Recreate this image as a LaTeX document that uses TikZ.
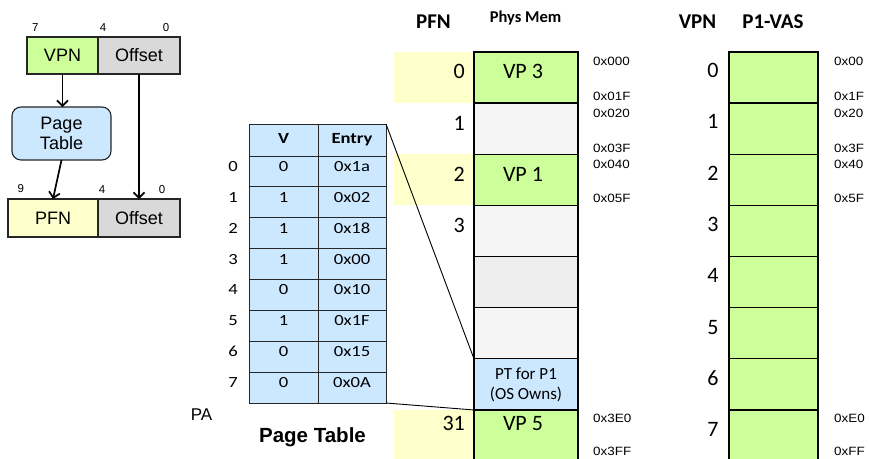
\documentclass[tikz,border=0pt]{standalone}
\usepackage{fontspec}
\setmainfont{Liberation Sans}
\newfontfamily\calib{Carlito}
\newfontfamily\calibw{Carlito}[FakeStretch=1.2]
\newfontfamily\arialw{Liberation Sans}[FakeStretch=1.12]
\usetikzlibrary{arrows.meta}
\definecolor{vgreen}{HTML}{CCFF99}
\definecolor{vyellow}{HTML}{FFFFCC}
\definecolor{vblue}{HTML}{CCE8FF}
\definecolor{vgray}{HTML}{D9D9D9}
\definecolor{vempty}{HTML}{F5F5F5}
\definecolor{vemptyb}{HTML}{EDEDED}
\tikzset{
  box/.style={draw=black!85, line width=1.1pt, inner sep=0pt, outer sep=0pt},
  lt/.style={font=\fontsize{18}{20}\selectfont},
  bit/.style={font=\fontsize{11.5}{13}\selectfont, anchor=base, inner sep=0pt},
  arr/.style={-{Straight Barb[length=5.5pt,width=11pt]}, line width=1.7pt},
  tcell/.style={draw=black!85, line width=0.9pt, fill=vblue, inner sep=0pt, outer sep=0pt, minimum width=#1, minimum height=30.875},
  ttxt/.style={font=\calibw\fontsize{15.5}{18}\selectfont, anchor=base, inner sep=0pt},
  thdr/.style={font=\calibw\bfseries\fontsize{15.5}{18}\selectfont, anchor=base, inner sep=0pt},
  mcell/.style={draw=black, line width=1.3pt, inner sep=0pt, outer sep=0pt, minimum width=#1, minimum height=51.14},
  mtxt/.style={font=\calib\fontsize{22}{26}\selectfont, anchor=base, inner sep=0pt},
  mnum/.style={font=\calib\fontsize{22}{26}\selectfont, anchor=base east, inner sep=0pt},
  addr/.style={font=\arialw\fontsize{12}{14}\selectfont, anchor=base west, inner sep=0pt},
  hdr/.style={font=\calib\bfseries\fontsize{21}{24}\selectfont, anchor=base, inner sep=0pt},
  hl/.style={fill=vyellow, inner sep=0pt, outer sep=0pt, minimum width=80, minimum height=#1},
  conn/.style={line width=0.9pt},
}
\begin{document}
\begin{tikzpicture}[x=1pt,y=-1pt]
\useasboundingbox (0,0) rectangle (869,458);

% ---- left: address translation ----
\node[bit] (b7) at (35.3,31) {7};
\node[bit] (b4) at (103,31) {4};
\node[bit] (b0) at (166,31) {0};
\node[box, lt, fill=vgreen, minimum width=71, minimum height=37] (vpn) at (62.5,55.5) {VPN};
\node[box, lt, fill=vgray, minimum width=82, minimum height=37] (off1) at (139,55.5) {Offset};
\node[box, lt, fill=vblue, rounded corners=9pt, minimum width=99, minimum height=53, align=center] (pt) at (61.5,133.5) {Page\\Table};
\node[bit] (c9) at (20.7,192) {9};
\node[bit] (c4) at (102,193) {4};
\node[bit] (c0) at (162,193) {0};
\node[box, lt, fill=vyellow, minimum width=90, minimum height=38] (pfn) at (53,218) {PFN};
\node[box, lt, fill=vgray, minimum width=82, minimum height=38] (off2) at (139,218) {Offset};
\draw[arr] (vpn.south) -- (vpn.south |- pt.north);
\draw[arr] (pt.south) -- (pfn.north);
\draw[arr] (off1.south) -- (off2.north);

% ---- page table ----
\node[tcell=69, minimum height=32] (hv) at (283.5,140) {};
\node[tcell=68, minimum height=32] (he) at (352,140) {};
\node[thdr] (thv) at ([yshift=-3pt]hv.center) {V};
\node[thdr] (the) at ([yshift=-3pt]he.center) {Entry};
\foreach \i/\v/\e in {0/0/0x1a,1/1/0x02,2/1/0x18,3/1/0x00,4/0/0x10,5/1/0x1F,6/0/0x15,7/0/0x0A}{
  \node[tcell=69] (v\i) at (283.5,{171.4375+30.875*\i}) {};
  \node[tcell=68] (e\i) at (352,{171.4375+30.875*\i}) {};
  \node[ttxt] (tv\i) at (v\i.center) {\v};
  \node[ttxt] (te\i) at (e\i.center) {\e};
  \node[ttxt] (ti\i) at (233,{171.4375+30.875*\i}) {\i};
}
\node[font=\fontsize{17}{20}\selectfont, anchor=base, inner sep=0pt] (pa) at (201.5,420) {PA};
\node[font=\bfseries\fontsize{20.5}{24}\selectfont, anchor=base, inner sep=0pt] (ptl) at (312.5,442) {Page Table};

% ---- physical memory ----
\node[hdr] (hpfn) at (433.5,28) {PFN};
\node[font=\calib\bfseries\fontsize{16.5}{19}\selectfont, anchor=base, inner sep=0pt] (hpm) at (525.5,22) {Phys Mem};
\node[hl=51.14] (y0) at (434,77.57) {};
\node[hl=51.14] (y2) at (434,179.85) {};
\node[hl=52] (y31) at (434,436) {};
\node[mcell=104, fill=vgreen] (m0) at (526,77.57) {};
\node[mcell=104, fill=vempty] (m1) at (526,128.71) {};
\node[mcell=104, fill=vgreen] (m2) at (526,179.85) {};
\node[mcell=104, fill=vempty] (m3) at (526,230.99) {};
\node[mcell=104, fill=vemptyb] (m4) at (526,282.13) {};
\node[mcell=104, fill=vempty] (m5) at (526,333.27) {};
\node[mcell=104, fill=vblue] (mpt) at (526,384.41) {};
\node[mcell=104, fill=vgreen, minimum height=52] (m31) at (526,436) {};
\node[mtxt] (t0) at (523,78.5) {VP 3};
\node[mtxt] (t2) at (523,181) {VP 1};
\node[mtxt] (t31) at (523,430) {VP 5};
\node[font=\calib\fontsize{17}{20}\selectfont, align=center, inner sep=0pt] (tpt) at (mpt.center) {PT for P1\\(OS Owns)};
\node[mnum] (n0) at (465,78.5) {0};
\node[mnum] (n1) at (465,130) {1};
\node[mnum] (n2) at (465,181) {2};
\node[mnum] (n3) at (465,232) {3};
\node[mnum] (n31) at (465,430) {31};
\node[addr] (a1) at (593,65) {0x000};
\node[addr] (a2) at (593,100) {0x01F};
\node[addr] (a3) at (593,117) {0x020};
\node[addr] (a4) at (593,152) {0x03F};
\node[addr] (a5) at (593,168) {0x040};
\node[addr] (a6) at (593,202) {0x05F};
\node[addr] (a7) at (593,422) {0x3E0};
\node[addr] (a8) at (593,455) {0x3FF};
\draw[conn] (he.north east) -- (mpt.north west);
\draw[conn] (e7.south east) -- (mpt.south west);

% ---- P1 virtual address space ----
\node[hdr] (hvpn) at (697.5,28) {VPN};
\node[hdr] (hvas) at (773,28) {P1-VAS};
\foreach \k in {0,...,7}{
  \node[mcell=89, fill=vgreen] (s\k) at (773.5,{77.57+51.14*\k}) {};
  \node[mtxt] (l\k) at (713,{77.5+51.3*\k}) {\k};
}
\node[addr] (w1) at (834,65) {0x00};
\node[addr] (w2) at (834,100) {0x1F};
\node[addr] (w3) at (834,117) {0x20};
\node[addr] (w4) at (834,152) {0x3F};
\node[addr] (w5) at (834,168) {0x40};
\node[addr] (w6) at (834,202) {0x5F};
\node[addr] (w7) at (834,422) {0xE0};
\node[addr] (w8) at (834,455) {0xFF};
\end{tikzpicture}
\end{document}
